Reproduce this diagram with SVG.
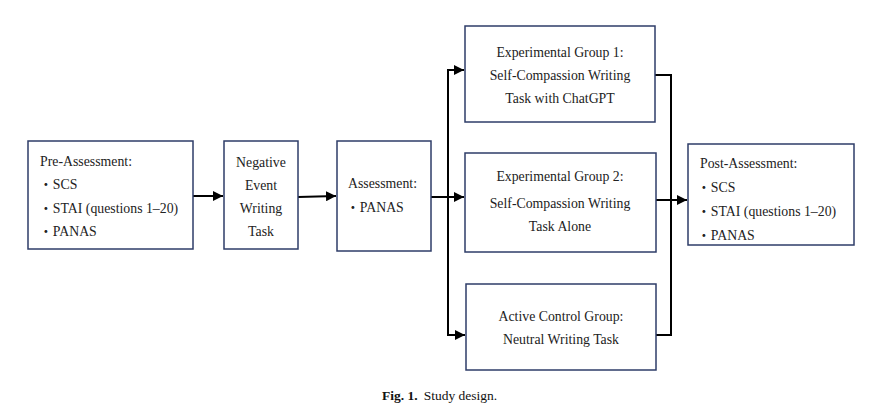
<svg xmlns="http://www.w3.org/2000/svg" width="882" height="411" viewBox="0 0 882 411">
<style>
.box{fill:#fff;stroke:#2e3d68;stroke-width:1.5}
.t{font-family:"Liberation Serif","Noto Sans CJK JP",serif;font-size:13.8px;fill:#222}
.c{text-anchor:middle}
.ln{fill:none;stroke:#000;stroke-width:2}
.cap{font-family:"Liberation Serif",serif;font-size:13.5px;fill:#111}
</style>
<defs>
<marker id="ah" viewBox="0 0 10 10" refX="10" refY="5" markerWidth="10" markerHeight="10" markerUnits="userSpaceOnUse" orient="auto">
<path d="M0,0 L10,5 L0,10 Z" fill="#000"/>
</marker>
</defs>
<rect width="882" height="411" fill="#fff"/>
<g id="connectors">
<line class="ln" x1="193" y1="196" x2="223" y2="196" marker-end="url(#ah)"/>
<line class="ln" x1="298" y1="197" x2="336" y2="196" marker-end="url(#ah)"/>
<line class="ln" x1="431" y1="197" x2="464" y2="197" marker-end="url(#ah)"/>
<polyline class="ln" points="448,335 448,70 464,70" marker-end="url(#ah)"/>
<polyline class="ln" points="448,300 448,335 465,335" marker-end="url(#ah)"/>
<polyline class="ln" points="655,75 671,75 671,335 656,335"/>
<line class="ln" x1="656" y1="200" x2="687" y2="200" marker-end="url(#ah)"/>
</g>
<g id="pre">
<rect class="box" x="28" y="141" width="165" height="108"/>
<text class="t" x="40" y="166">Pre-Assessment:</text>
<text class="t" x="39" y="189">・SCS</text>
<text class="t" x="39" y="213">・STAI (questions 1–20)</text>
<text class="t" x="39" y="236">・PANAS</text>
</g>
<g id="negative">
<rect class="box" x="224" y="141" width="74" height="108"/>
<text class="t c" x="261" y="167">Negative</text>
<text class="t c" x="261" y="190">Event</text>
<text class="t c" x="261" y="213">Writing</text>
<text class="t c" x="261" y="236">Task</text>
</g>
<g id="assessment">
<rect class="box" x="337" y="141" width="94" height="110"/>
<text class="t" x="348" y="188">Assessment:</text>
<text class="t" x="346" y="212">・PANAS</text>
</g>
<g id="eg1">
<rect class="box" x="465" y="26" width="190" height="96"/>
<text class="t c" x="560" y="57">Experimental Group 1:</text>
<text class="t c" x="560" y="80">Self-Compassion Writing</text>
<text class="t c" x="560" y="103">Task with ChatGPT</text>
</g>
<g id="eg2">
<rect class="box" x="465" y="153" width="191" height="99"/>
<text class="t c" x="560" y="181">Experimental Group 2:</text>
<text class="t c" x="560" y="208">Self-Compassion Writing</text>
<text class="t c" x="560" y="231">Task Alone</text>
</g>
<g id="control">
<rect class="box" x="466" y="284" width="190" height="86"/>
<text class="t c" x="561" y="321">Active Control Group:</text>
<text class="t c" x="561" y="344">Neutral Writing Task</text>
</g>
<g id="post">
<rect class="box" x="688" y="144" width="166" height="101"/>
<text class="t" x="700" y="168">Post-Assessment:</text>
<text class="t" x="697" y="192">・SCS</text>
<text class="t" x="697" y="216">・STAI (questions 1–20)</text>
<text class="t" x="697" y="240">・PANAS</text>
</g>
<text class="cap" x="382" y="400"><tspan font-weight="bold">Fig. 1.</tspan><tspan dx="6">Study design.</tspan></text>
</svg>
